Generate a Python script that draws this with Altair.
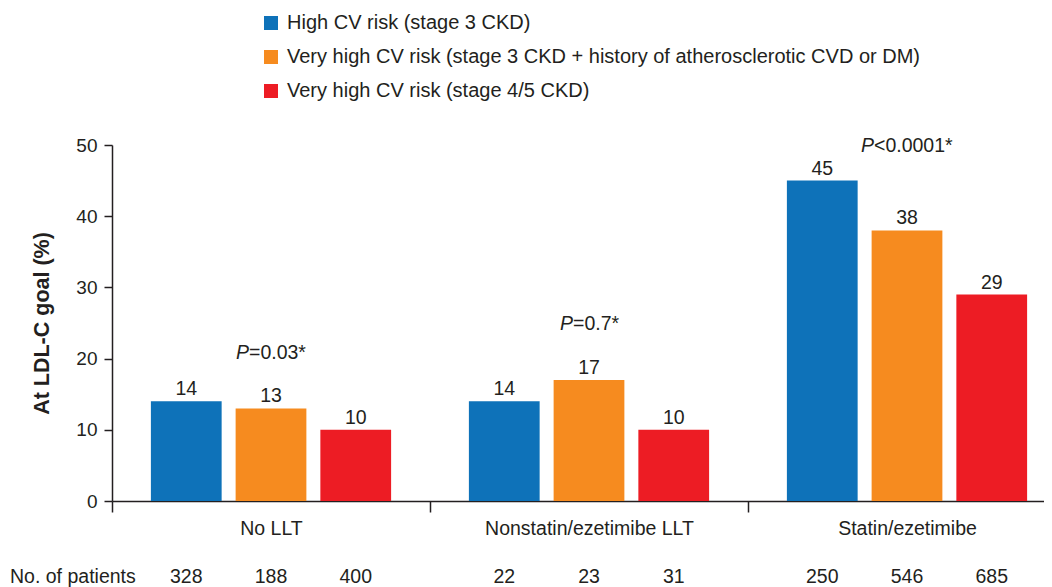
import altair as alt
import pandas as pd

groups = ["No LLT", "Nonstatin/ezetimibe LLT", "Statin/ezetimibe"]
series = [
    "High CV risk (stage 3 CKD)",
    "Very high CV risk (stage 3 CKD + history of atherosclerotic CVD or DM)",
    "Very high CV risk (stage 4/5 CKD)",
]
colors = ["#0e72b9", "#f68b1f", "#ed1c24"]

pct_no_llt = [14, 13, 10]
pct_nonstatin = [14, 17, 10]
pct_statin = [45, 38, 29]
n_no_llt = [328, 188, 400]
n_nonstatin = [22, 23, 31]
n_statin = [250, 546, 685]

p_text = ["=0.03*", "=0.7*", "<0.0001*"]
p_y = [20, 24, 49]
p_dx = [-22, -16, -33]

FONT = "Liberation Sans"
INK = "#231f20"
FS = 19.5

rows = []
for g, pcts, ns in zip(groups, [pct_no_llt, pct_nonstatin, pct_statin],
                       [n_no_llt, n_nonstatin, n_statin]):
    for s, v, n in zip(series, pcts, ns):
        rows.append({"group": g, "series": s, "v": v, "n": str(n)})
df = pd.DataFrame(rows)

X = alt.X(
    "group:N",
    sort=groups,
    scale=alt.Scale(range=[0, 954], paddingInner=0, paddingOuter=0),
    axis=alt.Axis(
        title=None,
        tickBand="extent",
        tickSize=11,
        tickWidth=1.5,
        tickColor=INK,
        domainColor=INK,
        domainWidth=1.5,
        labelFont=FONT,
        labelFontSize=FS,
        labelColor=INK,
        labelPadding=7,
        labelAngle=0,
        labelLimit=1000,
    ),
)
XO = alt.XOffset("series:N", sort=series,
                 scale=alt.Scale(paddingInner=0.165, paddingOuter=0.459))
Y = alt.Y(
    "v:Q",
    scale=alt.Scale(domain=[0, 50]),
    axis=alt.Axis(
        values=[0, 10, 20, 30, 40, 50],
        title="At LDL-C goal (%)",
        titleFont=FONT,
        titleFontSize=21.5,
        titleFontWeight="bold",
        titleColor=INK,
        titlePadding=22,
        tickSize=8,
        tickWidth=1.5,
        tickColor=INK,
        domainColor=INK,
        domainWidth=1.5,
        labelFont=FONT,
        labelFontSize=19,
        labelColor=INK,
        labelPadding=7,
        grid=False,
    ),
)

bars = alt.Chart(df).mark_bar().encode(
    x=X,
    xOffset=XO,
    y=Y,
    color=alt.Color(
        "series:N",
        sort=series,
        scale=alt.Scale(domain=series, range=colors),
        legend=alt.Legend(
            orient="none",
            legendX=149,
            legendY=-132,
            title=None,
            symbolType="square",
            symbolSize=196,
            symbolStrokeWidth=0,
            labelFont=FONT,
            labelFontSize=20,
            labelColor=INK,
            labelOffset=6,
            labelLimit=1000,
            rowPadding=14,
        ),
    ),
)

bar_labels = alt.Chart(df).mark_text(
    baseline="alphabetic", dy=-6, font=FONT, fontSize=FS, color=INK
).encode(x=X, xOffset=XO, y=Y, text="v:Q")

counts = alt.Chart(df).mark_text(
    baseline="alphabetic", font=FONT, fontSize=FS, color=INK
).encode(x=X, xOffset=XO, y=alt.value(438), text="n:N")

count_title = alt.Chart(pd.DataFrame({"t": ["No. of patients"]})).mark_text(
    baseline="alphabetic", align="left", font=FONT, fontSize=FS, color=INK
).encode(x=alt.value(-102), y=alt.value(438), text="t:N")

layers = [bars, bar_labels, counts, count_title]
for g, t, yv, dx in zip(groups, p_text, p_y, p_dx):
    pdf = pd.DataFrame({"group": [g], "v": [yv], "p": ["P"], "t": [t]})
    layers.append(
        alt.Chart(pdf).mark_text(
            baseline="alphabetic", align="right", dx=dx, font=FONT,
            fontSize=FS, fontStyle="italic", color=INK
        ).encode(x=X, y=Y, text="p:N")
    )
    layers.append(
        alt.Chart(pdf).mark_text(
            baseline="alphabetic", align="left", dx=dx, font=FONT,
            fontSize=FS, color=INK
        ).encode(x=X, y=Y, text="t:N")
    )

chart = (
    alt.layer(*layers)
    .properties(
        width=932,
        height=356,
        autosize=alt.AutoSizeParams(type="none"),
        padding={"left": 104, "top": 137, "right": 0, "bottom": 86},
        background="white",
    )
    .configure_view(stroke=None)
)

chart.save("out.html", embed_options={"renderer": "svg", "actions": False})
